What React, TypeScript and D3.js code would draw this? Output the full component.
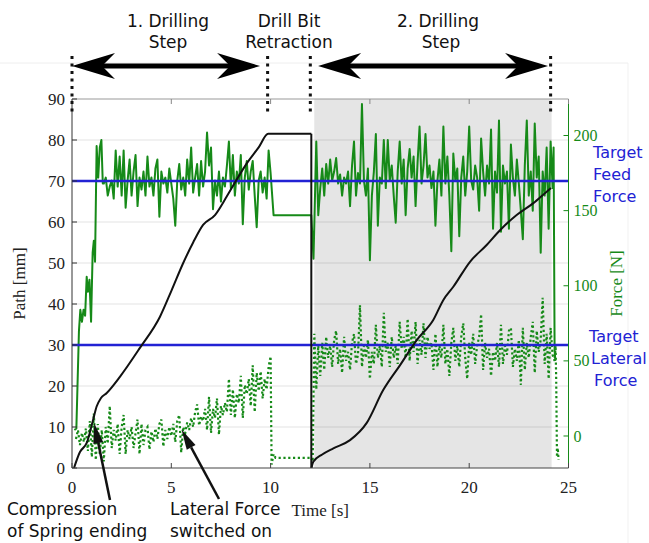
import React from "react";
import * as d3 from "d3";

const W = 649;
const H = 543;

// axis ticks
const timeTicks = [0, 5, 10, 15, 20, 25];
const pathTicks = [0, 10, 20, 30, 40, 50, 60, 70, 80, 90];
const forceTicks = [0, 50, 100, 150, 200];

// target lines, read on the path axis [mm]
const targetFeed = 70;
const targetLateral = 30;

// phase borders [s]
const phaseMarks = [0, 9.85, 12.0, 24.1];
const shadedFrom = 12.2;
const shadedTo = 24.15;

// drill path [mm], 1st step (incl. hold) and 2nd step
const path1T = [0.1, 0.4, 0.74, 1.06, 1.24, 1.45, 1.75, 2.42, 3.42, 4.43, 5.02, 5.6, 6.1, 6.6, 7.2, 7.79, 8.3, 8.8, 9.4, 9.88, 12.05];
const path1V = [0, 3.9, 6.1, 11.7, 15, 17, 18.3, 22.3, 29.3, 36.9, 43.4, 50, 55, 59.3, 61.7, 66.2, 70.4, 74.3, 78.2, 81.5, 81.5];
const path2T = [12.06, 12.15, 12.6, 13.16, 14.0, 14.84, 15.67, 16.52, 17.36, 18.19, 18.7, 19.2, 20.04, 20.88, 21.55, 22.39, 23.23, 23.9, 24.12];
const path2V = [0, 1.5, 3.3, 4.8, 6.8, 11, 19, 25.1, 31.2, 36.1, 41, 44.2, 50.3, 54.4, 58, 61.7, 64.6, 67.4, 68.3];

// feed force [N]
const feedRampT = [0.12, 0.22, 0.35, 0.42, 0.5, 0.58, 0.66, 0.74, 0.8, 0.88, 0.96, 1.04, 1.1, 1.16, 1.24, 1.32, 1.4, 1.48, 1.55];
const feedRampF = [4, 5, 70, 84, 76, 84, 80, 106, 96, 104, 76, 122, 130, 116, 193, 172, 192, 197, 168];
const feedStep1Start = 1.6;
const feedStep1 = [
  168, 172, 160, 166, 170, 158, 190, 166, 186, 160,
  190, 152, 170, 184, 160, 176, 187, 153, 172, 164,
  176, 160, 186, 166, 172, 160, 178, 184, 146, 176,
  168, 172, 162, 178, 168, 158, 140, 170, 181, 164,
  172, 160, 184, 168, 192, 162, 172, 181, 160, 183,
  166, 176, 202, 180, 192, 151, 170, 160, 176, 156,
  172, 166, 180, 196, 165, 187, 160, 176, 168, 187,
  141, 172, 183, 164, 176, 183, 160, 139, 170, 176,
  162, 172, 158, 190,
];
const feedRetractT = [10.0, 10.15, 12.05, 12.16];
const feedRetractF = [175, 147, 147, 118];
const feedStep2Start = 12.3;
const feedStep2 = [
  196, 147, 165, 178, 160, 181, 168, 184, 170, 176,
  185, 168, 174, 160, 172, 168, 176, 153, 180, 196,
  160, 175, 168, 221, 170, 160, 178, 117, 160, 176,
  201, 140, 172, 168, 197, 165, 197, 170, 180, 160,
  142, 176, 196, 168, 184, 147, 178, 191, 172, 186,
  153, 182, 206, 168, 180, 201, 172, 180, 165, 176,
  140, 170, 184, 160, 206, 168, 186, 160, 123, 188,
  170, 178, 133, 172, 186, 160, 176, 206, 170, 164,
  180, 172, 150, 198, 176, 160, 180, 168, 204, 138,
  176, 162, 210, 136, 180, 168, 176, 138, 194, 172,
  160, 184, 168, 150, 131, 180, 210, 160, 176, 150,
  208, 172, 186, 122, 176, 160, 192, 138, 196, 165,
];
const feedEndT = [24.25, 24.3, 24.34];
const feedEndF = [192, 57, 50];

// lateral force [N]
const latStep1Start = 0.2;
const latStep1 = [
  -2, 4, -6, 2, -4, 5, -10, 10, -14,
  15, -16, 8, -12, 4, -17, 6, -5, 20, -8,
  4, -3, 8, -12, 6, 14, -12, 4, -2, 6,
  -8, 2, 11, -12, 8, -6, 4, 6, -9, 3,
  -4, 5, -2, 8, 11, -7, 4, -2, 6, 0,
  8, -4, 10, 14, -11, 6, 2, 9, 4, 12,
  6, 16, 21, 7, 13, 10, 18, 4, 26, 2,
  18, 12, 25, 1, 20, 14, 22, 16, 38, 14,
  31, 12, 28, 22, 40, 12, 34, 28, 38, 20,
  47, 16, 42, 30, 43, 25, 38, 31, 46, 53,
];
const latRetractT = [10.05, 10.15, 10.25, 12.05, 12.12];
const latRetractF = [-19, -12, -14.5, -14.5, -17];
const latStep2Start = 12.2;
const latStep2 = [
  68, 31, 60, 40, 62, 44, 66, 52, 60, 46,
  64, 70, 48, 58, 42, 66, 50, 56, 44, 62,
  68, 48, 54, 87, 46, 60, 52, 64, 38, 56,
  48, 74, 52, 60, 46, 82, 56, 62, 46, 66,
  52, 60, 48, 76, 58, 66, 52, 78, 50, 70,
  56, 76, 48, 64, 54, 75, 52, 66, 58, 62,
  44, 68, 46, 60, 52, 74, 48, 58, 40, 62,
  72, 50, 60, 46, 66, 75, 52, 38, 62, 54,
  68, 48, 60, 66, 81, 44, 62, 52, 58, 40,
  56, 50, 62, 46, 74, 48, 60, 54, 70, 72,
  46, 58, 50, 64, 34, 72, 44, 62, 52, 66,
  76, 42, 70, 56, 64, 92, 48, 68, 38, 72,
  54, 50,
];
const latEndT = [24.35, 24.38, 24.42, 24.46, 24.5];
const latEndF = [60, 38, -14, -8, -16];

type Pt = [number, number];
const zip = (ts: number[], vs: number[]): Pt[] => ts.map((t, i) => [t, vs[i]]);
const sampled = (t0: number, vs: number[], dt = 0.1): Pt[] => vs.map((v, i) => [t0 + i * dt, v]);

const SANS = "'DejaVu Sans', Verdana, sans-serif";
const SERIF = "'Liberation Serif', 'Times New Roman', serif";
const GREEN = "#168a18";
const BLUE = "#2222d4";

function barbHead(tipX: number, y: number, dir: number) {
  // dir = -1 points left, +1 points right
  const back = tipX - dir * 43;
  const notch = tipX - dir * 30;
  return `M${tipX},${y} L${back},${y - 13} L${notch},${y} L${back},${y + 13} Z`;
}

function pointer(tail: Pt, tip: Pt) {
  const dx = tip[0] - tail[0];
  const dy = tip[1] - tail[1];
  const len = Math.hypot(dx, dy);
  const ux = dx / len, uy = dy / len;
  const bx = tip[0] - ux * 20, by = tip[1] - uy * 20;
  const px = -uy * 5, py = ux * 5;
  return {
    line: [tail, [bx, by]] as Pt[],
    head: `M${tip[0]},${tip[1]} L${bx + px},${by + py} L${bx - px},${by - py} Z`,
  };
}

export default function App() {
  const x = d3.scaleLinear().domain([0, 25]).range([72, 568.5]);
  const yPath = d3.scaleLinear().domain([0, 90]).range([468, 99]);
  const yForce = d3.scaleLinear().domain([-21.3, 224.3]).range([468, 99]);
  const [top, bottom] = [yPath(90), yPath(0)];
  const [left, right] = x.range();

  const smoothPath = d3.line<Pt>().x((d) => x(d[0])).y((d) => yPath(d[1])).curve(d3.curveMonotoneX);
  const forceLine = d3.line<Pt>().x((d) => x(d[0])).y((d) => yForce(d[1]));

  const path1 = zip(path1T, path1V);
  const path2 = zip(path2T, path2V);
  const feed = [
    ...zip(feedRampT, feedRampF),
    ...sampled(feedStep1Start, feedStep1),
    ...zip(feedRetractT, feedRetractF),
    ...sampled(feedStep2Start, feedStep2),
    ...zip(feedEndT, feedEndF),
  ];
  const lateral = [
    ...sampled(latStep1Start, latStep1),
    ...zip(latRetractT, latRetractF),
    ...sampled(latStep2Start, latStep2),
    ...zip(latEndT, latEndF),
  ];

  const arrowY = 66;
  const arrows = [
    [x(phaseMarks[0]), x(9.47)],
    [x(12.39), x(23.97)],
  ];

  const notes = [
    { lines: ["Compression", "of Spring ending"], x0: 7, tip: [x(1.12), yPath(10.9)] as Pt, tail: [110, 500] as Pt },
    { lines: ["Lateral Force", "switched on"], x0: 170, tip: [x(5.52), yPath(9.3)] as Pt, tail: [219, 499] as Pt },
  ];

  const last1 = path1[path1.length - 1];
  const first2 = path2[0];

  return (
    <svg width={W} height={H} style={{ position: "absolute", left: 0, top: 0, background: "#fff" }}>
      <defs>
        <clipPath id="plot">
          <rect x={left} y={top} width={right - left} height={bottom - top} />
        </clipPath>
      </defs>

      {/* faint frame of the scanned figure */}
      <line x1={0} x2={628} y1={63} y2={63} stroke="#eeeeee" />
      <line x1={628} x2={628} y1={63} y2={H} stroke="#f1f1f1" />

      {/* shaded 2nd drilling step */}
      <rect x={x(shadedFrom)} y={top} width={x(shadedTo) - x(shadedFrom)} height={bottom - top} fill="#e5e5e5" />

      {/* grid */}
      {pathTicks.slice(1, -1).map((v) => (
        <line key={v} x1={left} x2={right} y1={yPath(v)} y2={yPath(v)} stroke="#000" strokeOpacity={0.11} />
      ))}

      {/* series */}
      <g clipPath="url(#plot)" fill="none">
        <path d={forceLine(lateral) ?? ""} stroke={GREEN} strokeWidth={2.2} strokeDasharray="2.2 2.6" />
        <path d={forceLine(feed) ?? ""} stroke={GREEN} strokeWidth={2} strokeLinejoin="round" />
        {[targetFeed, targetLateral].map((v) => (
          <line key={v} x1={left} x2={right} y1={yPath(v)} y2={yPath(v)} stroke={BLUE} strokeWidth={2.5} />
        ))}
        <g stroke="#111" strokeWidth={2} strokeLinejoin="round">
          <path d={smoothPath(path1) ?? ""} />
          <path d={`M${x(last1[0])},${yPath(last1[1])} V${yPath(0)} L${x(first2[0])},${yPath(first2[1])}`} />
          <path d={smoothPath(path2) ?? ""} />
        </g>
      </g>

      {/* axes frame */}
      <line x1={left} x2={right} y1={top} y2={top} stroke="#999" />
      <line x1={left} x2={right} y1={bottom} y2={bottom} stroke="#444" />
      <line x1={left} x2={left} y1={top} y2={bottom} stroke="#333" />
      <line x1={right} x2={right} y1={top} y2={bottom} stroke={GREEN} />

      {timeTicks.map((t) => (
        <g key={t}>
          <line x1={x(t)} x2={x(t)} y1={bottom} y2={bottom - 5} stroke="#444" />
          <line x1={x(t)} x2={x(t)} y1={top} y2={top + 5} stroke="#888" />
          <text x={x(t)} y={bottom + 25} textAnchor="middle" fontFamily={SERIF} fontSize={17} fill="#222">{t}</text>
        </g>
      ))}
      {pathTicks.map((v) => (
        <g key={v}>
          <line x1={left} x2={left + 5} y1={yPath(v)} y2={yPath(v)} stroke="#333" />
          <text x={left - 7} y={yPath(v)} dy="0.35em" textAnchor="end" fontFamily={SERIF} fontSize={17} fill="#222">{v}</text>
        </g>
      ))}
      {forceTicks.map((v) => (
        <g key={v}>
          <line x1={right} x2={right - 5} y1={yForce(v)} y2={yForce(v)} stroke={GREEN} />
          <text x={right + 5} y={yForce(v)} dy="0.35em" fontFamily={SERIF} fontSize={16} fill={GREEN}>{v}</text>
        </g>
      ))}

      <text transform={`translate(25,${(top + bottom) / 2}) rotate(-90)`} textAnchor="middle" fontFamily={SERIF} fontSize={17} fill="#222">Path [mm]</text>
      <text transform={`translate(622,${(top + bottom) / 2}) rotate(-90)`} textAnchor="middle" fontFamily={SERIF} fontSize={17} fill={GREEN}>Force [N]</text>
      <text x={(left + right) / 2} y={516} textAnchor="middle" fontFamily={SERIF} fontSize={17} fill="#222">Time [s]</text>

      {/* target labels */}
      <g fontFamily={SANS} fontSize={16} fill={BLUE}>
        <text x={593} y={158}>Target</text>
        <text x={593} y={180}>Feed</text>
        <text x={593} y={202}>Force</text>
        <text x={589} y={342}>Target</text>
        <text x={591} y={364}>Lateral</text>
        <text x={594} y={386}>Force</text>
      </g>

      {/* phase markers and arrows */}
      {phaseMarks.map((t) => (
        <line key={t} x1={x(t)} x2={x(t)} y1={56} y2={112} stroke="#111" strokeWidth={3} strokeDasharray="3 4.5" />
      ))}
      {arrows.map(([a, b], i) => (
        <g key={i} fill="#000">
          <line x1={a + 20} x2={b - 20} y1={arrowY} y2={arrowY} stroke="#000" strokeWidth={5} />
          <path d={barbHead(a, arrowY, -1)} />
          <path d={barbHead(b, arrowY, 1)} />
        </g>
      ))}
      <g fontFamily={SANS} fontSize={17} fill="#111" textAnchor="middle">
        <text x={168} y={27}>1. Drilling</text>
        <text x={168} y={48}>Step</text>
        <text x={289} y={27}>Drill Bit</text>
        <text x={289} y={48}>Retraction</text>
        <text x={438} y={27}>2. Drilling</text>
        <text x={441} y={48}>Step</text>
      </g>

      {/* annotations */}
      {notes.map((n, i) => {
        const p = pointer(n.tail, n.tip);
        return (
          <g key={i}>
            <line x1={p.line[0][0]} y1={p.line[0][1]} x2={p.line[1][0]} y2={p.line[1][1]} stroke="#111" strokeWidth={2.5} />
            <path d={p.head} fill="#111" />
            <text x={n.x0} y={515} fontFamily={SANS} fontSize={17} fill="#111">{n.lines[0]}</text>
            <text x={n.x0} y={537} fontFamily={SANS} fontSize={17} fill="#111">{n.lines[1]}</text>
          </g>
        );
      })}
    </svg>
  );
}
